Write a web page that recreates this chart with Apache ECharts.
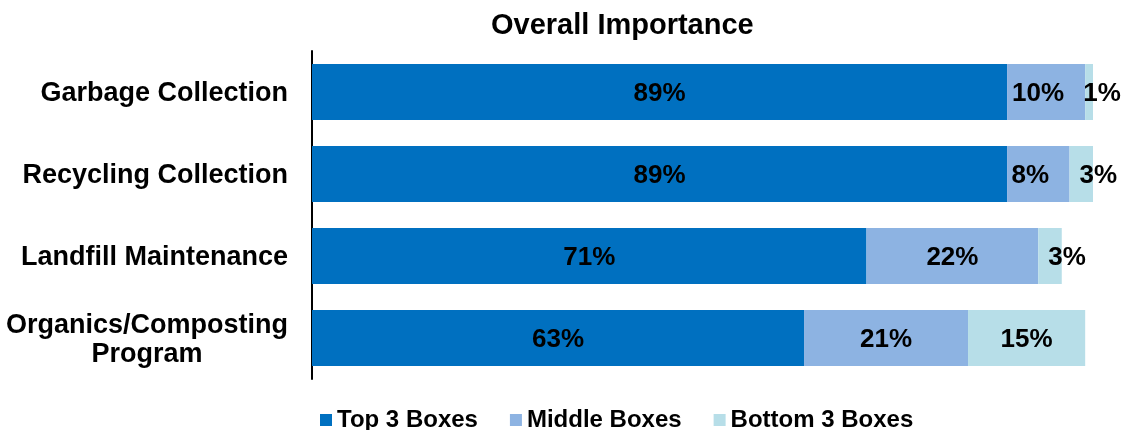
<!DOCTYPE html>
<html>
<head>
<meta charset="utf-8">
<title>Overall Importance</title>
<script src="https://cdn.jsdelivr.net/npm/echarts@6/dist/echarts.min.js"></script>
<style>
    html, body { margin: 0; padding: 0; background: #fff; }
    #main-chart { width: 1125px; height: 430px; }
</style>
</head>
<body>
<div id="main-chart"></div>
<script>
const categories = ['Garbage Collection', 'Recycling Collection', 'Landfill Maintenance', 'Organics/Composting\nProgram'];
const seriesNames = ['Top 3 Boxes', 'Middle Boxes', 'Bottom 3 Boxes'];
const topBoxes = [89, 89, 71, 63];
const middleBoxes = [10, 8, 22, 21];
const bottomBoxes = [1, 3, 3, 15];

const colors = ['#0070C0', '#8DB3E2', '#B7DEE8'];
const fontFamily = '"Liberation Sans", Arial, sans-serif';

document.addEventListener('DOMContentLoaded', () => {
    const chartDom = document.getElementById('main-chart');
    const myChart = echarts.init(chartDom, null, { renderer: 'canvas' });

    // small segments: Excel nudges the label off centre
    function withLabelShift(values, shiftFn) {
        return values.map(v => ({ value: v, label: { offset: [shiftFn(v), 2] } }));
    }

    const barLabel = {
        show: true,
        position: 'inside',
        formatter: '{c}%',
        color: '#000',
        fontFamily: fontFamily,
        fontWeight: 'bold',
        fontSize: 26
    };

    const option = {
        animation: false,
        title: {
            text: 'Overall Importance',
            left: 486,
            top: 6,
            textStyle: {
                fontFamily: fontFamily,
                fontWeight: 'bold',
                fontSize: 29,
                color: '#000'
            }
        },
        legend: {
            data: seriesNames,
            left: 315,
            top: 403,
            itemWidth: 12,
            itemHeight: 12,
            itemGap: 32,
            icon: 'rect',
            textStyle: {
                fontFamily: fontFamily,
                fontWeight: 'bold',
                fontSize: 24,
                color: '#000'
            }
        },
        grid: {
            left: 312,
            right: 32,
            top: 51,
            bottom: 51
        },
        xAxis: {
            type: 'value',
            min: 0,
            max: 100,
            show: false
        },
        yAxis: {
            type: 'category',
            data: categories,
            inverse: true,
            axisLine: { show: true, lineStyle: { color: '#000', width: 2 } },
            axisTick: { show: false },
            axisLabel: {
                margin: 24,
                color: '#000',
                fontFamily: fontFamily,
                fontWeight: 'bold',
                fontSize: 27,
                formatter: value => value.split('\n').map(line => `{c|${line}}`).join('\n'),
                rich: {
                    c: {
                        align: 'center',
                        color: '#000',
                        fontFamily: fontFamily,
                        fontWeight: 'bold',
                        fontSize: 27,
                        lineHeight: 29,
                        padding: [4, 0, 0, 0]
                    }
                }
            }
        },
        series: [
            {
                name: seriesNames[0],
                type: 'bar',
                stack: 'total',
                barWidth: 56,
                itemStyle: { color: colors[0] },
                label: barLabel,
                data: withLabelShift(topBoxes, () => 0)
            },
            {
                name: seriesNames[1],
                type: 'bar',
                stack: 'total',
                barWidth: 56,
                itemStyle: { color: colors[1] },
                label: barLabel,
                data: withLabelShift(middleBoxes, v => (v <= 10 ? -8 : 0))
            },
            {
                name: seriesNames[2],
                type: 'bar',
                stack: 'total',
                barWidth: 56,
                itemStyle: { color: colors[2] },
                label: barLabel,
                data: withLabelShift(bottomBoxes, v => (v < 2 ? 13 : v < 5 ? 17 : 0))
            }
        ]
    };

    myChart.setOption(option);
});
</script>
</body>
</html>
